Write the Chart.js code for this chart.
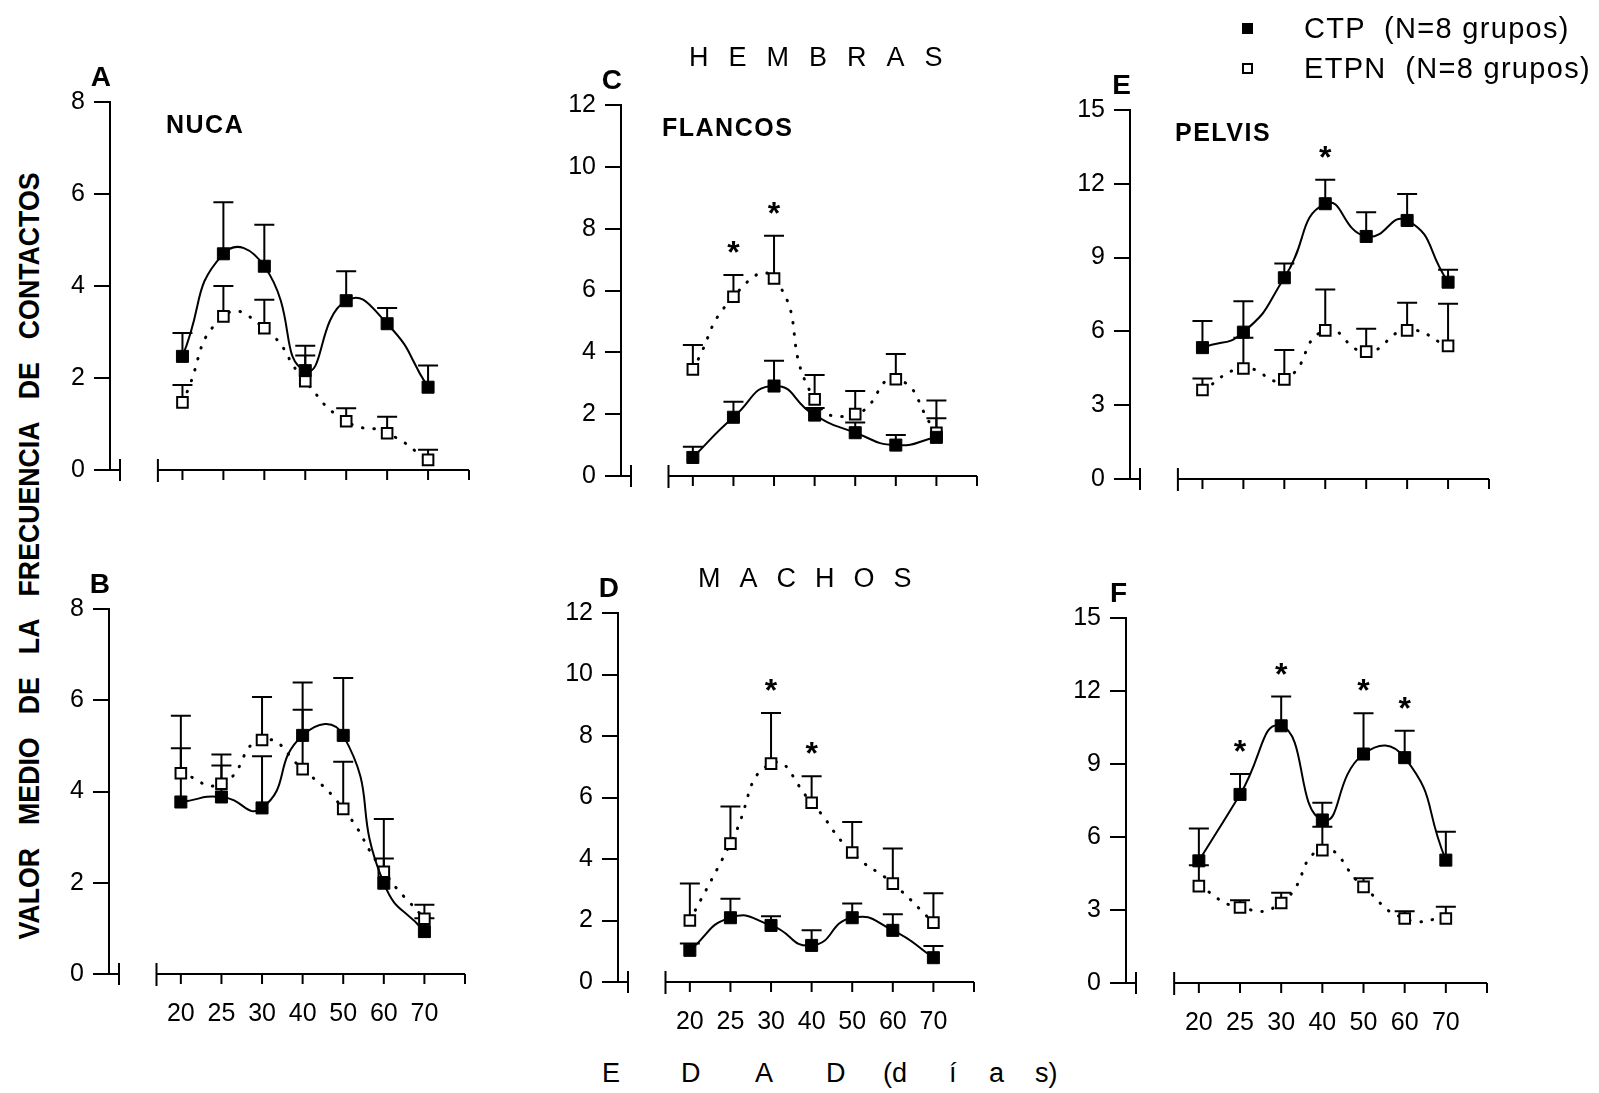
<!DOCTYPE html>
<html>
<head>
<meta charset="utf-8">
<script src="https://cdn.jsdelivr.net/npm/chart.js@4.4.1/dist/chart.umd.min.js"></script>
<style>
  body { margin:0; background:#fff; width:1599px; height:1093px; position:relative; overflow:hidden;
         font-family:"Liberation Sans", Arial, sans-serif; color:#000; }
  canvas { position:absolute; }
  .txt { position:absolute; white-space:pre; line-height:1; }
  .sq { position:absolute; box-sizing:border-box; border:2px solid #000; }
  #ytitle { position:absolute; left:29px; top:556px; white-space:nowrap; line-height:1;
            transform:translate(-50%,-50%) rotate(-90deg) scaleX(0.89);
            font:bold 30px "Liberation Sans", Arial, sans-serif; word-spacing:17.6px; }
</style>
</head>
<body>
<div id="ytitle">VALOR MEDIO DE LA FRECUENCIA DE CONTACTOS</div>
<script>
// edad (días) - categorías del eje x
const ages = ['20', '25', '30', '40', '50', '60', '70'];

// A - hembras, nuca
const hNucaCtp     = [2.47, 4.70, 4.43, 2.16, 3.68, 3.18, 1.80];
const hNucaCtpHi   = [2.98, 5.82, 5.33, 2.70, 4.32, 3.52, 2.27];
const hNucaEtpn    = [1.47, 3.34, 3.08, 1.93, 1.06, 0.80, 0.22];
const hNucaEtpnHi  = [1.85, 4.00, 3.70, 2.49, 1.34, 1.16, 0.44];
const hNucaStars   = [];

// B - machos, nuca
const mNucaCtp     = [3.77, 3.88, 3.64, 5.23, 5.23, 1.99, 0.93];
const mNucaCtpHi   = [4.95, 4.57, 4.77, 6.39, 6.49, 2.53, 1.22];
const mNucaEtpn    = [4.40, 4.17, 5.13, 4.49, 3.62, 2.24, 1.21];
const mNucaEtpnHi  = [5.66, 4.81, 6.07, 5.79, 4.65, 3.40, 1.52];
const mNucaStars   = [];

// C - hembras, flancos
const hFlanCtp     = [0.60, 1.90, 2.91, 1.97, 1.40, 1.00, 1.25];
const hFlanCtpHi   = [0.95, 2.40, 3.73, 2.20, 1.73, 1.33, 1.87];
const hFlanEtpn    = [3.45, 5.80, 6.39, 2.48, 2.00, 3.13, 1.40];
const hFlanEtpnHi  = [4.24, 6.50, 7.77, 3.27, 2.75, 3.95, 2.44];
const hFlanStars   = [1, 2];

// D - machos, flancos
const mFlanCtp     = [1.03, 2.09, 1.84, 1.19, 2.09, 1.68, 0.79];
const mFlanCtpHi   = [1.25, 2.71, 2.14, 1.68, 2.55, 2.20, 1.17];
const mFlanEtpn    = [2.00, 4.50, 7.10, 5.83, 4.21, 3.20, 1.93];
const mFlanEtpnHi  = [3.20, 5.71, 8.75, 6.69, 5.20, 4.34, 2.89];
const mFlanStars   = [2, 3];

// E - hembras, pelvis
const hPelvCtp     = [5.34, 5.97, 8.18, 11.19, 9.86, 10.51, 8.00];
const hPelvCtpHi   = [6.42, 7.23, 8.76, 12.16, 10.84, 11.59, 8.51];
const hPelvEtpn    = [3.62, 4.49, 4.05, 6.04, 5.18, 6.04, 5.41];
const hPelvEtpnHi  = [4.09, 5.74, 5.24, 7.70, 6.11, 7.16, 7.12];
const hPelvStars   = [3];

// F - machos, pelvis
const mPelvCtp     = [5.02, 7.75, 10.57, 6.70, 9.41, 9.26, 5.05];
const mPelvCtpHi   = [6.35, 8.59, 11.77, 7.41, 11.09, 10.37, 6.22];
const mPelvEtpn    = [3.98, 3.10, 3.29, 5.46, 3.95, 2.65, 2.65];
const mPelvEtpnHi  = [4.84, 3.40, 3.71, 6.42, 4.30, 2.95, 3.13];
const mPelvStars   = [1, 2, 4, 5];

const panels = [
  { id:'A', name:'NUCA',    nameDx:56, ctp:hNucaCtp, ctpHi:hNucaCtpHi, etpn:hNucaEtpn, etpnHi:hNucaEtpnHi, stars:hNucaStars, yMax:8,  step:2, showX:false, box:{left:110,  top:102, right:469,  bottom:470} },
  { id:'B', name:'',        nameDx:0,  ctp:mNucaCtp, ctpHi:mNucaCtpHi, etpn:mNucaEtpn, etpnHi:mNucaEtpnHi, stars:mNucaStars, yMax:8,  step:2, showX:true,  box:{left:109,  top:609, right:465,  bottom:974} },
  { id:'C', name:'FLANCOS', nameDx:41, ctp:hFlanCtp, ctpHi:hFlanCtpHi, etpn:hFlanEtpn, etpnHi:hFlanEtpnHi, stars:hFlanStars, yMax:12, step:2, showX:false, box:{left:621,  top:105, right:977,  bottom:476} },
  { id:'D', name:'',        nameDx:0,  ctp:mFlanCtp, ctpHi:mFlanCtpHi, etpn:mFlanEtpn, etpnHi:mFlanEtpnHi, stars:mFlanStars, yMax:12, step:2, showX:true,  box:{left:618,  top:613, right:974,  bottom:982} },
  { id:'E', name:'PELVIS',  nameDx:45, ctp:hPelvCtp, ctpHi:hPelvCtpHi, etpn:hPelvEtpn, etpnHi:hPelvEtpnHi, stars:hPelvStars, yMax:15, step:3, showX:false, box:{left:1130, top:110, right:1489, bottom:479} },
  { id:'F', name:'',        nameDx:0,  ctp:mPelvCtp, ctpHi:mPelvCtpHi, etpn:mPelvEtpn, etpnHi:mPelvEtpnHi, stars:mPelvStars, yMax:15, step:3, showX:true,  box:{left:1126, top:618, right:1487, bottom:983} }
];

const X_MIN = -1.77, X_MAX = 7.0, X_START = -0.6;
const PAD_L = 100, PAD_T = 70, PAD_R = 24, PAD_B = 70;
const FONT = '"Liberation Sans", Arial, sans-serif';

function decor(p) {
  return {
    id: 'decor',
    beforeDatasetsDraw(chart) {
      const { ctx, scales: { x, y } } = chart;
      ctx.save();
      ctx.strokeStyle = '#000';
      ctx.lineWidth = 2;
      chart.data.datasets.forEach(ds => {
        ds.data.forEach((pt, i) => {
          const px = x.getPixelForValue(pt.x);
          const y0 = y.getPixelForValue(pt.y);
          const y1 = y.getPixelForValue(ds.hi[i]);
          ctx.beginPath();
          ctx.moveTo(px, y0); ctx.lineTo(px, y1);
          ctx.moveTo(px - 10, y1); ctx.lineTo(px + 10, y1);
          ctx.stroke();
        });
      });
      ctx.restore();
    },
    afterDraw(chart) {
      const { ctx, chartArea, scales: { x, y } } = chart;
      const ax = chartArea.left;
      const y0 = y.getPixelForValue(0);
      ctx.save();
      ctx.strokeStyle = '#000';
      ctx.lineWidth = 2;
      // zero tick with break mark
      ctx.beginPath();
      ctx.moveTo(ax, y0); ctx.lineTo(ax + 10, y0);
      ctx.moveTo(ax + 10, y0 - 11); ctx.lineTo(ax + 10, y0 + 11);
      ctx.stroke();
      // detached x axis
      const xs = x.getPixelForValue(X_START);
      const xe = chartArea.right;
      ctx.beginPath();
      ctx.moveTo(xs, y0); ctx.lineTo(xe, y0);
      ctx.moveTo(xs, y0 - 11); ctx.lineTo(xs, y0 + 12);
      ages.forEach((_, i) => {
        const px = x.getPixelForValue(i);
        ctx.moveTo(px, y0); ctx.lineTo(px, y0 + 10);
      });
      ctx.moveTo(xe, y0); ctx.lineTo(xe, y0 + 10);
      ctx.stroke();

      // asterisks
      ctx.fillStyle = '#000';
      ctx.textAlign = 'center';
      ctx.textBaseline = 'alphabetic';
      ctx.font = 'bold 32px ' + FONT;
      p.stars.forEach(i => {
        const top = Math.max(p.ctpHi[i], p.etpnHi[i]);
        const py = y.getPixelForValue(top) - 30;
        ctx.fillText('*', x.getPixelForValue(i), py + 18);
      });

      // panel letter and name
      ctx.textAlign = 'right';
      ctx.font = 'bold 28px ' + FONT;
      ctx.fillText(p.id, ax + 1, chartArea.top - 16);
      if (p.name) {
        ctx.textAlign = 'left';
        ctx.font = 'bold 25px ' + FONT;
        ctx.letterSpacing = '1.5px';
        ctx.fillText(p.name, ax + p.nameDx, chartArea.top + 31);
      }
      ctx.restore();
    }
  };
}

function makePanel(p) {
  const canvas = document.createElement('canvas');
  const w = p.box.right - p.box.left + PAD_L + PAD_R;
  const h = p.box.bottom - p.box.top + PAD_T + PAD_B;
  canvas.width = w;
  canvas.height = h;
  canvas.style.width = w + 'px';
  canvas.style.height = h + 'px';
  canvas.style.left = (p.box.left - PAD_L) + 'px';
  canvas.style.top = (p.box.top - PAD_T) + 'px';
  document.body.appendChild(canvas);

  const pts = vals => vals.map((v, i) => ({ x: i, y: v }));

  return new Chart(canvas.getContext('2d'), {
    type: 'line',
    data: {
      datasets: [
        {
          label: 'CTP', data: pts(p.ctp), hi: p.ctpHi,
          borderColor: '#000', borderWidth: 2, tension: 0.55, fill: false,
          pointStyle: 'rect', pointRadius: 8.5, pointBorderWidth: 1,
          pointBackgroundColor: '#000', pointBorderColor: '#000'
        },
        {
          label: 'ETPN', data: pts(p.etpn), hi: p.etpnHi,
          borderColor: '#000', borderWidth: 3, borderDash: [0.5, 11], borderCapStyle: 'round',
          tension: 0.55, fill: false,
          pointStyle: 'rect', pointRadius: 7.5, pointBorderWidth: 2,
          pointBackgroundColor: '#fff', pointBorderColor: '#000'
        }
      ]
    },
    options: {
      responsive: false,
      animation: false,
      devicePixelRatio: 1,
      layout: { padding: { left: 0, top: PAD_T, right: PAD_R, bottom: 0 } },
      plugins: { legend: { display: false }, tooltip: { enabled: false } },
      scales: {
        x: {
          type: 'linear', min: X_MIN, max: X_MAX,
          grid: { display: false, drawTicks: false },
          border: { display: false },
          afterBuildTicks: s => { s.ticks = ages.map((_, i) => ({ value: i })); },
          afterFit: s => { s.height = PAD_B; },
          ticks: {
            display: p.showX, autoSkip: false, maxRotation: 0, minRotation: 0,
            padding: 25, color: '#000', font: { family: FONT, size: 25 },
            callback: v => ages[v]
          }
        },
        y: {
          min: 0, max: p.yMax,
          afterFit: s => { s.width = PAD_L; },
          ticks: { stepSize: p.step, padding: 9, color: '#000', font: { family: FONT, size: 25 } },
          grid: { drawOnChartArea: false, drawTicks: true, tickLength: 16, color: '#000', lineWidth: 2 },
          border: { display: true, color: '#000', width: 2 }
        }
      }
    },
    plugins: [decor(p)]
  });
}

panels.forEach(makePanel);

// page-level texts
function addText(str, x, baseline, size, extra) {
  const d = document.createElement('div');
  d.className = 'txt';
  d.textContent = str;
  d.style.left = x + 'px';
  d.style.top = (baseline - 0.8465 * size) + 'px';
  d.style.fontSize = size + 'px';
  Object.assign(d.style, extra || {});
  document.body.appendChild(d);
}

addText('HEMBRAS', 689, 67, 27, { letterSpacing: '20px' });
addText('MACHOS', 698, 588, 27, { letterSpacing: '19px' });

// E D A D (d í a s)
[['E', 602], ['D', 681], ['A', 755], ['D', 826], ['(d', 883], ['í', 949], ['a', 989], ['s)', 1035]]
  .forEach(([t, x]) => addText(t, x, 1083, 27));

// legend
function addSquare(cx, cy, filled) {
  const s = document.createElement('div');
  s.className = 'sq';
  s.style.left = (cx - 5.5) + 'px';
  s.style.top = (cy - 5.5) + 'px';
  s.style.width = '11px';
  s.style.height = '11px';
  s.style.background = filled ? '#000' : '#fff';
  document.body.appendChild(s);
}
addSquare(1247, 28, true);
addSquare(1247, 68, false);
addText('CTP  (N=8 grupos)', 1304, 39, 29, { letterSpacing: '1.3px' });
addText('ETPN  (N=8 grupos)', 1304, 79, 29, { letterSpacing: '1.3px' });
</script>
</body>
</html>
